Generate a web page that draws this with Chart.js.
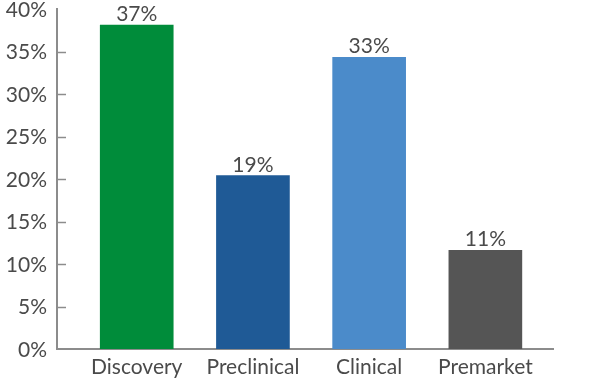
<!DOCTYPE html>
<html><head><meta charset="utf-8">
<script src="https://cdn.jsdelivr.net/npm/chart.js@4/dist/chart.umd.min.js"></script>
<style>html,body{margin:0;padding:0;background:#fff}#wrap{width:599px;height:381px}</style>
</head><body><div id="wrap"><canvas id="c" width="599" height="381"></canvas></div>
<script>
const categories = ["Discovery", "Preclinical", "Clinical", "Premarket"];
const values = [38.1, 20.4, 34.3, 11.6];
const valueLabels = ["37%", "19%", "33%", "11%"];
const barColors = ["#008C3A", "#1F5A96", "#4B8BCA", "#555555"];
const yTicks = [0, 5, 10, 15, 20, 25, 30, 35, 40];

const textColor = "#4a4a4a";
const fontFamily = "Lato, 'Open Sans', sans-serif";

const labelPlugin = {
  id: "valueLabels",
  afterDatasetsDraw(chart) {
    const ctx = chart.ctx;
    const meta = chart.getDatasetMeta(0);
    ctx.save();
    ctx.fillStyle = textColor;
    ctx.font = "21px " + fontFamily;
    ctx.textAlign = "center";
    ctx.textBaseline = "alphabetic";
    meta.data.forEach((bar, i) => {
      ctx.fillText(valueLabels[i], bar.x, bar.y - 4);
    });
    ctx.restore();
  }
};
const innerTicks = {
  id: "innerTicks",
  afterDraw(chart) {
    const ctx = chart.ctx, y = chart.scales.y, left = chart.chartArea.left;
    ctx.save();
    ctx.strokeStyle = "#8c8c8c";
    ctx.lineWidth = 1.5;
    yTicks.forEach(v => {
      if (v === 0 || v === 40) return;
      const py = Math.round(y.getPixelForValue(v)) + 0.5;
      ctx.beginPath();
      ctx.moveTo(left, py);
      ctx.lineTo(left + 9, py);
      ctx.stroke();
    });
    ctx.restore();
  }
};

new Chart(document.getElementById("c"), {
  type: "bar",
  data: {
    datasets: [{
      data: values.map((v, i) => ({ x: i, y: v })),
      backgroundColor: barColors,
      borderWidth: 0,
      barThickness: 73
    }]
  },
  options: {
    responsive: false,
    animation: false,
    layout: { padding: { top: 9, right: 46, left: 0, bottom: 0 } },
    plugins: { legend: { display: false }, tooltip: { enabled: false } },
    scales: {
      x: {
        type: "linear",
        offset: false,
        min: -0.686,
        max: 3.582,
        afterBuildTicks(scale) { scale.ticks = categories.map((c, i) => ({ value: i })); },
        afterFit(scale) { scale.height = 32; scale.paddingLeft = 0; scale.paddingRight = 0; },
        grid: { display: false, drawTicks: false },
        border: { display: true, color: "#8c8c8c", width: 2 },
        ticks: {
          color: textColor,
          font: { family: fontFamily, size: 21 },
          padding: 6,
          autoSkip: false,
          maxRotation: 0,
          callback: (v) => categories[v] ?? ""
        }
      },
      y: {
        min: 0,
        max: 40,
        afterBuildTicks(scale) { scale.ticks = yTicks.map(v => ({ value: v })); },
        afterFit(scale) { scale.width = 57; scale.paddingTop = 0; scale.paddingBottom = 0; },
        grid: { display: false, drawTicks: false },
        border: { display: true, color: "#8c8c8c", width: 2 },
        ticks: {
          color: textColor,
          font: { family: fontFamily, size: 21 },
          padding: 10,
          labelOffset: 1,
          callback: (v) => v + "%"
        }
      }
    }
  },
  plugins: [labelPlugin, innerTicks]
});
</script></body></html>
